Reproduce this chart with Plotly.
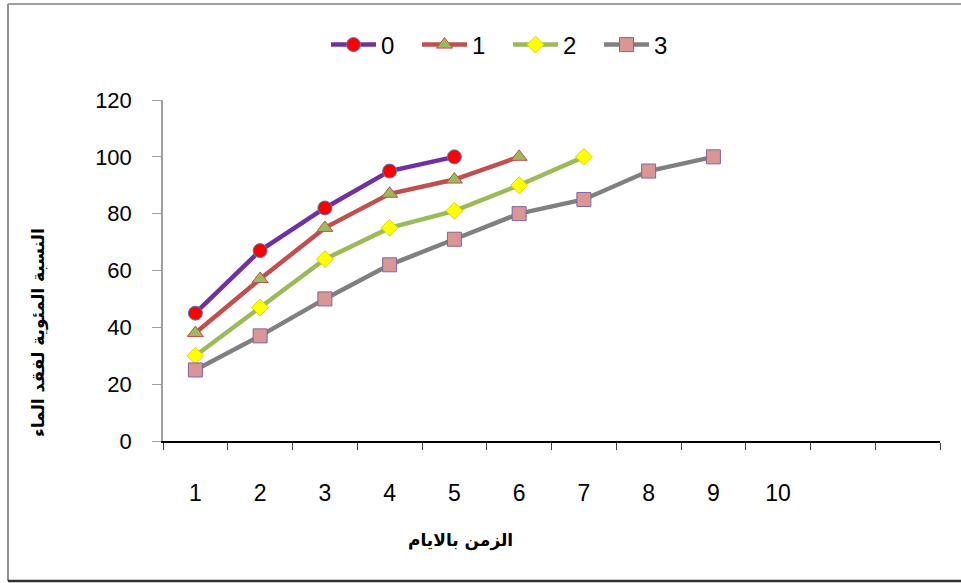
import plotly.graph_objects as go

days = [1, 2, 3, 4, 5, 6, 7, 8, 9]
s0 = [45, 67, 82, 95, 100]
s1 = [38, 57, 75, 87, 92, 100]
s2 = [30, 47, 64, 75, 81, 90, 100]
s3 = [25, 37, 50, 62, 71, 80, 85, 95, 100]
names = ["0", "1", "2", "3"]
x_labels = ["1", "2", "3", "4", "5", "6", "7", "8", "9", "10"]
y_ticks = [0, 20, 40, 60, 80, 100, 120]
x_title = "الزمن بالايام"
y_title = "النسبة المئوية لفقد الماء"

styles = [
    dict(line="#7030A0", sym="circle", fill="#FF0000", edge="#4F81BD", size=14),
    dict(line="#C0504D", sym="triangle-up", fill="#9BBB59", edge="#C0504D", size=14),
    dict(line="#9BBB59", sym="diamond", fill="#FFFF00", edge="#D8D800", size=13),
    dict(line="#808080", sym="square", fill="#D99694", edge="#8064A2", size=14),
]

fig = go.Figure()
for name, vals, st in zip(names, [s0, s1, s2, s3], styles):
    fig.add_trace(go.Scatter(
        x=days[:len(vals)], y=vals, name=name, mode="lines+markers",
        line=dict(color=st["line"], width=4.5),
        marker=dict(symbol=st["sym"], color=st["fill"], size=st["size"],
                    line=dict(color=st["edge"], width=1)),
    ))

W, H = 961, 583
L, R, T, B = 163, 21, 100, 142
pw, ph = W - L - R, H - T - B

def px(x):
    return (x - L) / pw

def py(y):
    return (H - B - y) / ph

fig.update_layout(
    width=W, height=H,
    margin=dict(l=L, r=R, t=T, b=B),
    paper_bgcolor="white", plot_bgcolor="white",
    font=dict(family="Liberation Sans, Arial", color="#000000"),
    showlegend=True,
    legend=dict(orientation="h", x=px(326), y=py(45), xanchor="left", yanchor="middle",
                font=dict(size=24, color="#000000"), itemwidth=45,
                entrywidth=31, entrywidthmode="pixels",
                traceorder="normal", bgcolor="rgba(0,0,0,0)"),
    xaxis=dict(
        range=[0.5, 12.5], tickmode="array", tickvals=list(range(1, 11)), ticktext=x_labels,
        ticks="", showgrid=False, zeroline=False,
        showline=True, linecolor="#000000", linewidth=1.5,
        tickfont=dict(size=23, color="#000000"), ticklabelstandoff=31,
        minor=dict(tickmode="linear", tick0=0.5, dtick=1, ticks="outside", ticklen=7,
                   tickcolor="#404040", showgrid=False),
    ),
    yaxis=dict(
        range=[0, 120], tickmode="array", tickvals=y_ticks,
        ticks="outside", ticklen=9, tickcolor="#A0A0A0",
        showgrid=False, zeroline=False,
        showline=True, linecolor="#A0A0A0", linewidth=1.5,
        tickfont=dict(size=22, color="#000000"), ticklabelstandoff=16,
    ),
    annotations=[
        dict(text="<b>" + x_title + "</b>", xref="paper", yref="paper",
             x=px(460), y=py(540), xanchor="center", yanchor="middle", showarrow=False,
             font=dict(family="DejaVu Sans", size=17, color="#000000")),
        dict(text="<b>" + y_title + "</b>", xref="paper", yref="paper",
             x=px(38), y=py(333), xanchor="center", yanchor="middle", showarrow=False,
             textangle=-90, font=dict(family="DejaVu Sans", size=17, color="#000000")),
    ],
    shapes=[
        dict(type="line", xref="paper", yref="paper", x0=px(8), x1=px(8), y0=py(581), y1=py(4),
             line=dict(color="#909090", width=2)),
        dict(type="line", xref="paper", yref="paper", x0=px(8), x1=px(970), y0=py(4), y1=py(4),
             line=dict(color="#A0A0A0", width=2)),
        dict(type="line", xref="paper", yref="paper", x0=px(8), x1=px(970), y0=py(581), y1=py(581),
             line=dict(color="#303030", width=2.5)),
    ],
)

fig.write_html("out.html")
